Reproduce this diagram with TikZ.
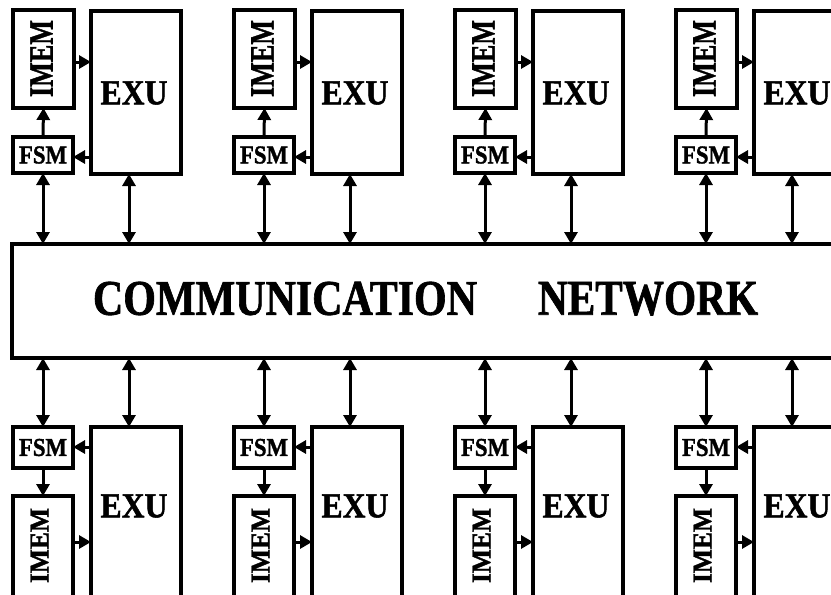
\documentclass[tikz,border=0pt]{standalone}
\usepackage{fontspec}
\setmainfont{Liberation Serif}[BoldFeatures={FakeBold=1.5}]
\usepackage{graphicx}
\usetikzlibrary{arrows.meta}
\tikzset{
  blk/.style={draw=black, line width=3.6pt, fill=white, inner sep=0pt, outer sep=0pt, anchor=north west},
  lnk/.style={line width=3pt, -{Triangle[length=12pt,width=13pt]}},
  blnk/.style={line width=3pt, {Triangle[length=12pt,width=13pt]}-{Triangle[length=12pt,width=13pt]}},
  lbl/.style={inner sep=0pt, font=\bfseries},
}
\begin{document}
\begin{tikzpicture}[x=1pt,y=-1pt]
\useasboundingbox (0,0) rectangle (831,595);
\clip (0,0) rectangle (831,595);
\node[blk, minimum width=860pt, minimum height=114pt] (net) at (12,244) {};
\node[lbl] (tcomm) at (285,298.5) {\resizebox{384pt}{33pt}{\bfseries COMMUNICATION}};
\node[lbl] (tnet) at (648,298.5) {\resizebox{220pt}{33pt}{\bfseries NETWORK}};
\foreach \i/\dx in {1/0,2/221,3/442,4/663}{
  % top
  \node[blk, minimum width=61pt, minimum height=98pt] (imT\i) at (\dx+13,10) {};
  \node[blk, minimum width=90pt, minimum height=163pt] (exT\i) at (\dx+91,11) {};
  \node[blk, minimum width=60pt, minimum height=36pt] (fsT\i) at (\dx+13,137) {};
  \node[lbl, rotate=90] (tiT\i) at (\dx+41.5,58.5) {\resizebox{77pt}{22pt}{\bfseries IMEM}};
  \node[lbl] (txT\i) at (\dx+134,93) {\resizebox{67pt}{23pt}{\bfseries EXU}};
  \node[lbl] (tfT\i) at (\dx+43,155) {\resizebox{48pt}{17pt}{\bfseries FSM}};
  \coordinate (eT\i) at (\dx+129,174);
  \draw[lnk] (imT\i.east |- 0,62) -- (exT\i.west |- 0,62);
  \draw[lnk] (exT\i.west |- 0,157) -- (fsT\i.east |- 0,157);
  \draw[lnk] (fsT\i.north) -- (imT\i.south);
  \draw[blnk] (fsT\i.south) -- (fsT\i.south |- net.north);
  \draw[blnk] (eT\i |- exT\i.south) -- (eT\i |- net.north);
  % bottom
  \node[blk, minimum width=60pt, minimum height=41pt] (fsB\i) at (\dx+13,427) {};
  \node[blk, minimum width=60pt, minimum height=120pt] (imB\i) at (\dx+13,496) {};
  \node[blk, minimum width=90pt, minimum height=190pt] (exB\i) at (\dx+91,427) {};
  \node[lbl, rotate=90] (tiB\i) at (\dx+39.5,545.5) {\resizebox{75pt}{18pt}{\bfseries IMEM}};
  \node[lbl] (txB\i) at (\dx+134,506) {\resizebox{67pt}{23pt}{\bfseries EXU}};
  \node[lbl] (tfB\i) at (\dx+43,447.5) {\resizebox{48pt}{17pt}{\bfseries FSM}};
  \coordinate (eB\i) at (\dx+129,427);
  \draw[blnk] (fsB\i.north |- net.south) -- (fsB\i.north);
  \draw[blnk] (eB\i |- net.south) -- (eB\i |- exB\i.north);
  \draw[lnk] (exB\i.west |- 0,447) -- (fsB\i.east |- 0,447);
  \draw[lnk] (fsB\i.south) -- (imB\i.north);
  \draw[lnk] (imB\i.east |- 0,542) -- (exB\i.west |- 0,542);
}
\end{tikzpicture}
\end{document}
